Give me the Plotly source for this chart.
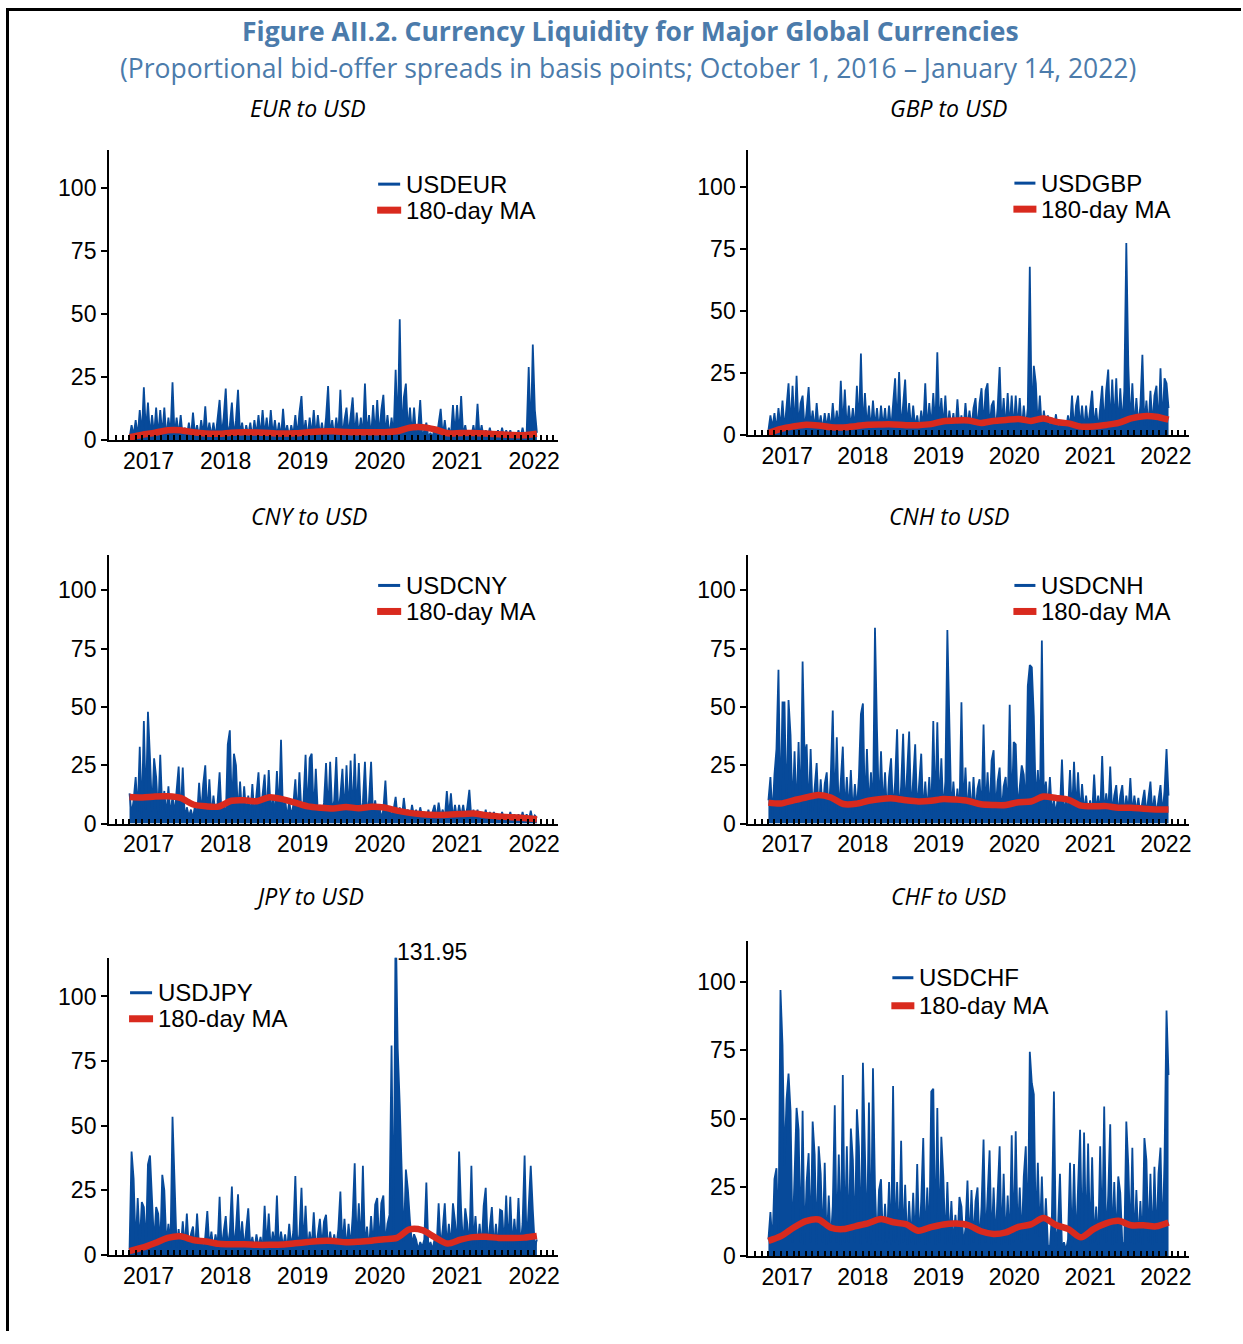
import pandas as pd
import plotly.graph_objects as go

# Proportional bid-offer spreads (basis points), sampled roughly every 10 days
START, END = "2016-10-03", "2022-01-14"

USDEUR = [
    1, 6, 2, 8, 1.5, 12, 2, 21, 3, 15, 1.5, 10, 2, 13, 1.5, 12, 2, 13, 1, 9,
    2, 23, 1.5, 9, 2, 10, 1, 5, 1.5, 7, 1, 11, 2, 6, 1, 8, 2, 13.5, 1.5, 7,
    1.5, 7, 1, 8, 16, 2, 9, 20.5, 2, 6, 15, 1.5, 8, 20, 2, 7, 1, 6, 2, 7,
    1, 8, 2, 10, 1.5, 12, 2, 9, 1, 12, 2, 8, 1.5, 7, 1, 12.5, 2, 6, 1, 6,
    2, 10, 1.5, 11, 17.5, 2, 8, 1, 9, 2, 12, 1.5, 10, 2, 7, 1, 9, 21.5, 2, 8,
    1.5, 9, 2, 20, 1, 8, 13, 2, 10, 17, 1.5, 11, 2, 9, 1.5, 22.5, 2, 10, 1, 14,
    2, 16, 1.5, 12, 18, 2, 10, 1.5, 9, 2, 28, 3, 48, 2, 17, 22.5, 3, 13, 2, 13,
    1.5, 5, 16, 1, 4, 7, 1, 3, 1, 5, 1, 6, 12.5, 1.5, 8, 1, 5, 1.5, 14, 2,
    14, 2, 17.5, 1.5, 6, 1, 4, 1.5, 6, 1, 14.5, 1.5, 6, 1, 4, 1, 5, 1, 3, 1,
    4, 1, 5, 1, 4, 1.5, 4, 1, 3, 1, 4, 1, 5, 1, 3, 29, 1, 38, 12, 3,
]
USDGBP = [
    2, 8, 3, 9, 2, 11, 3, 14, 2, 13, 21, 3, 20, 2, 24, 3, 13, 16, 2, 10,
    19.5, 3, 10, 2, 13, 3, 8, 2, 9, 3, 9, 2, 13, 3, 10, 2, 22, 3, 18.5, 2,
    12, 3, 11, 2, 20, 3, 33, 2, 17, 3, 12, 2, 14, 3, 11, 2, 12, 3, 11, 2,
    12, 2, 11, 23, 3, 25.5, 2, 13, 22.5, 3, 13, 2, 12, 3, 8, 2, 10, 3, 21, 2,
    13, 3, 17, 2, 33.5, 4, 15, 3, 16, 2, 10, 3, 9, 2, 14.5, 3, 8, 2, 13, 3,
    10, 3, 11, 15, 2, 13, 19, 3, 18, 21, 3, 12, 14, 2, 11, 27.5, 3, 15, 2, 17,
    3, 16, 2, 16, 3, 15, 2, 12, 3, 11, 68, 4, 28, 21, 3, 16, 2, 10, 3, 8,
    2, 7, 3, 8.5, 2, 5, 3, 6, 2, 8, 3, 16, 2, 12, 16, 3, 12, 2, 12, 3,
    12, 18, 3, 11, 2, 12, 20, 3, 18, 26.5, 3, 22.5, 4, 23, 3, 19, 4, 18, 77.5, 28,
    4, 21, 3, 15, 4, 12, 32.5, 4, 14, 3, 18, 4, 16, 20, 3, 27, 4, 23, 21, 11,
]
USDCNY = [
    13, 4, 10, 20, 5, 33, 3, 44, 6, 48, 28, 5, 28, 20, 4, 29.5, 6, 14, 3, 16,
    3, 12, 4, 13, 24.5, 3, 24, 2, 7, 3, 6, 2, 8, 3, 17.5, 4, 17, 25, 3, 19,
    3, 12, 4, 9, 22, 3, 8, 2, 34, 40, 5, 30, 25, 4, 18, 3, 16, 4, 12, 3,
    17, 3, 12, 22, 4, 14, 21, 3, 23, 4, 12, 3, 22.5, 4, 36, 3, 11, 2, 10, 3,
    8, 19, 3, 22, 4, 10, 29.5, 4, 28, 30, 3, 23.5, 4, 8, 3, 9, 26, 4, 26.5, 5,
    10, 28.5, 4, 12, 23.5, 3, 25, 4, 27, 3, 30, 4, 26, 3, 9, 26.5, 4, 10, 26.5, 3,
    10, 3, 8, 2, 6, 18.5, 2, 7, 3, 6, 11.5, 2, 7, 2, 11, 3, 6, 2, 8, 3,
    6, 2, 7, 3, 5, 2, 6, 2, 5, 8, 2, 9, 3, 6, 2, 14, 3, 13, 2, 8,
    2, 8, 3, 8, 2, 7, 14.5, 2, 6, 2, 6, 1.5, 5, 2, 6, 1.5, 5, 2, 5, 1.5,
    4, 1.5, 5, 1.5, 4, 1, 5, 1.5, 4, 1, 4, 1, 5, 1, 4, 1, 5.5, 1, 3.5, 2.5,
]
USDCNH = [
    10, 20, 3, 21, 32, 66, 4, 52, 52, 3, 53, 38, 5, 31, 4, 35, 4, 69.5, 28, 34,
    4, 32, 5, 14, 26, 4, 19, 5, 17, 22, 4, 20, 48.5, 5, 37, 4, 17, 33, 4, 20,
    5, 23, 4, 17, 6, 20, 47, 51.5, 5, 32, 6, 22, 4, 84, 40, 5, 31, 6, 22, 4,
    20, 28, 5, 18, 40.5, 4, 16, 38.5, 5, 20, 39.5, 4, 22, 34, 5, 20, 30, 4, 18, 5,
    20, 4, 44, 5, 43.5, 6, 28, 5, 18, 83, 35, 4, 18, 5, 15, 4, 52, 5, 24, 4,
    18, 4, 20, 5, 15, 19, 4, 42.5, 5, 22, 4, 27, 31.5, 5, 18, 24, 4, 16, 20, 5,
    51, 5, 35, 34, 6, 15, 25, 21, 6, 59, 68, 67, 46, 8, 23, 6, 78.5, 10, 18, 6,
    20, 5, 10, 4, 12, 6, 27.5, 4, 10, 5, 23, 4, 26.5, 5, 22, 4, 17, 5, 12, 4,
    10, 4, 21, 5, 12, 4, 29, 4, 13, 5, 24.5, 4, 12, 16.5, 4, 12, 16.5, 4, 12, 5,
    19.5, 4, 12, 5, 11, 4, 10, 14.5, 4, 10, 18, 4, 12, 4, 11, 16.5, 4, 14, 32, 12,
]
USDJPY = [
    2, 40, 29.5, 3, 22, 4, 20.5, 18.5, 3, 35, 38.5, 23, 4, 18.5, 16, 3, 31, 25, 4, 12,
    3, 53.5, 27, 3, 10, 2, 13, 3, 16, 2, 8, 11, 2, 16, 3, 6, 2, 7, 17, 3,
    9, 2, 8, 3, 22.5, 2, 9, 15, 3, 9, 26.5, 2, 10, 23.5, 3, 13, 2, 10, 18, 3,
    7, 2, 8, 3, 7, 2, 19, 3, 16, 2, 9, 3, 23, 2, 9, 3, 8, 2, 12, 3,
    9, 30.5, 3, 8, 26, 3, 19, 2, 9, 3, 16.5, 2, 9, 14, 3, 13, 15.5, 2, 9, 3,
    8, 3, 10, 24.5, 3, 14, 2, 12, 3, 15, 35.5, 3, 20, 3, 34.5, 3, 11, 2, 15, 3,
    19.5, 22, 3, 20, 23, 4, 12, 15.5, 81, 3, 131.95, 80, 58, 27, 5, 33, 25, 13, 4, 8,
    6, 2, 5, 3, 6, 28, 2, 5, 2, 6, 3, 20, 3, 10, 20, 3, 12, 3, 20, 13,
    3, 40, 17, 3, 18, 12, 3, 34.5, 4, 15, 3, 12, 3, 19, 26, 3, 12, 18.5, 3, 12,
    3, 17.5, 17, 3, 23, 3, 22.5, 3, 14, 4, 22, 3, 12, 38.5, 3, 19, 34.5, 17.5, 3, 6,
]
USDCHF = [
    6, 16, 4, 28, 32, 5, 97, 77, 33, 57, 66.5, 53, 5, 26, 54, 46, 5, 53, 4, 27,
    37.5, 5, 49, 37, 4, 40, 30, 5, 34, 4, 22, 5, 18, 55, 5, 37, 4, 66, 5, 40,
    5, 46.5, 35, 5, 53.5, 40, 4, 70.5, 36, 5, 56, 4, 68.5, 25, 4, 24, 28, 4, 19, 5,
    27, 4, 62, 5, 27, 4, 42, 5, 26, 4, 20, 5, 23, 4, 33.5, 5, 20, 43, 4, 25,
    5, 60, 61, 4, 54, 5, 43.5, 29, 4, 27, 5, 20, 4, 15, 5, 21.5, 18, 4, 10, 27.5,
    4, 24, 5, 20, 25, 4, 18, 42.5, 5, 22, 38.5, 4, 25, 5, 20, 40, 4, 30, 5, 22,
    4, 44, 5, 45.5, 6, 25, 5, 29, 40, 6, 74.5, 63, 59, 8, 34, 7, 29, 5, 21, 4,
    3, 15, 60, 3, 10, 30, 3, 5, 2, 6, 34, 3, 33.5, 4, 25, 46, 4, 45, 5, 41,
    4, 36, 5, 18, 4, 40, 6, 54.5, 5, 22, 48, 4, 27, 5, 29, 23, 5, 4, 49, 33,
    5, 39.5, 4, 24, 5, 20, 4, 43, 35, 5, 30, 4, 32.5, 5, 30, 39.5, 5, 35, 89.5, 66,
]

# 180-day moving averages, roughly every two months
MA_EUR = [1.2, 2.2, 3.0, 4.0, 4.0, 3.2, 2.7, 2.6, 3.0, 3.2, 3.1, 2.9, 2.7, 2.8, 3.2, 3.5, 3.6,
          3.3, 3.2, 3.2, 3.2, 3.6, 5.0, 5.2, 4.3, 2.8, 2.9, 2.9, 2.7, 2.4, 2.1, 2.0, 2.6]
MA_GBP = [0.9, 2.6, 3.6, 4.3, 4.0, 3.3, 3.2, 3.7, 4.3, 4.4, 4.4, 4.1, 4.1, 4.5, 5.7, 6.0, 6.0,
          5.0, 5.8, 6.2, 6.6, 5.8, 6.8, 5.4, 4.8, 3.5, 3.6, 4.2, 5.0, 6.8, 7.7, 7.5, 6.3]
MA_CNY = [11.4, 11.2, 11.6, 11.7, 11.0, 8.2, 7.4, 7.3, 9.8, 10.0, 9.6, 11.3, 10.5, 9.0, 7.4, 6.8, 6.5,
          7.1, 6.6, 7.2, 6.9, 5.6, 4.6, 4.0, 3.7, 3.8, 4.1, 4.3, 3.6, 3.1, 2.7, 2.4, 1.9]
MA_CNH = [9.0, 8.6, 10.0, 11.2, 12.3, 11.2, 8.4, 8.5, 9.8, 10.6, 10.8, 10.0, 9.5, 9.8, 10.6, 10.3, 9.7,
          8.3, 8.0, 8.0, 9.2, 9.5, 11.6, 11.0, 10.2, 7.7, 7.4, 7.5, 6.8, 6.8, 6.4, 6.1, 6.1]
MA_JPY = [1.5, 2.8, 4.6, 6.6, 7.2, 5.8, 5.2, 4.3, 4.1, 4.1, 3.9, 3.9, 4.0, 4.5, 5.0, 5.4, 5.4,
          4.9, 5.1, 5.5, 6.1, 6.6, 9.9, 9.6, 6.8, 4.4, 5.9, 6.9, 7.0, 6.6, 6.6, 6.7, 7.3]
MA_CHF = [5.5, 7.2, 10.3, 12.7, 13.3, 10.3, 9.8, 10.9, 12.0, 13.5, 12.3, 11.6, 9.2, 10.5, 11.5, 11.8, 11.2,
          9.0, 8.0, 8.6, 10.6, 11.5, 13.8, 11.3, 9.8, 6.8, 9.8, 11.9, 12.8, 11.2, 11.2, 10.8, 12.2]

PANEL_TITLES = ["EUR to USD", "GBP to USD", "CNY to USD", "CNH to USD", "JPY to USD", "CHF to USD"]
SERIES_NAMES = ["USDEUR", "USDGBP", "USDCNY", "USDCNH", "USDJPY", "USDCHF"]
SERIES = [USDEUR, USDGBP, USDCNY, USDCNH, USDJPY, USDCHF]
MAS = [MA_EUR, MA_GBP, MA_CNY, MA_CNH, MA_JPY, MA_CHF]
MA_NAME = "180-day MA"
YEARS = [2017, 2018, 2019, 2020, 2021, 2022]
Y_TICKS = [0, 25, 50, 75, 100]

W, H = 1243, 1344
# drawing area actually used by the page (positions below are laid out against it)
W_EFF, H_EFF = 1240.5, 1330.0
BLUE = "#074a9a"
RED = "#d92a1e"
TITLE_BLUE = "#4b7bab"
NUM_FONT = "Liberation Sans, Arial, sans-serif"
TXT_FONT = "Open Sans, sans-serif"


def px(x):
    return x / W_EFF


def py(y):
    return 1 - y / H_EFF


# panel frames in pixels: (left, right, top, bottom)
FRAMES = [
    (109, 558, 150, 440), (748, 1189, 150, 435),
    (109, 558, 555, 823), (748, 1189, 555, 823),
    (109, 558, 957, 1254), (748, 1189, 940, 1255),
]
# legend anchors: (line x0, line x1, text x, blue y, red y)
LEGENDS = [
    (377, 400, 404, 184, 210), (1013, 1035, 1039, 183, 209),
    (377, 400, 404, 585, 611), (1013, 1035, 1039, 585, 611),
    (129, 152, 156, 992, 1018), (891, 913, 917, 977, 1005),
]
TITLE_POS = [(308, 108), (948, 108), (309, 516), (949, 516), (309, 895), (948, 895)]

months = pd.date_range("2016-07-01", "2022-04-01", freq="MS")
tick_text = [str(d.year) if (d.month == 1 and d.year in YEARS) else "" for d in months]

fig = go.Figure()
shapes, annotations = [], []

for i in range(6):
    n = "" if i == 0 else str(i + 1)
    vals = SERIES[i]
    dates = pd.date_range(START, END, periods=len(vals))
    ma = MAS[i]
    ma_dates = pd.date_range(START, END, periods=len(ma))
    # dense daily quotes read as a solid band, so shade beneath the trace
    fig.add_trace(go.Scatter(x=dates, y=vals, mode="lines", name=SERIES_NAMES[i],
                             line=dict(color=BLUE, width=1.8), fill="tozeroy", fillcolor=BLUE,
                             xaxis="x" + n, yaxis="y" + n, hoverinfo="skip"))
    fig.add_trace(go.Scatter(x=ma_dates, y=ma, mode="lines", name=MA_NAME,
                             line=dict(color=RED, width=6.5, shape="spline", smoothing=0.8),
                             xaxis="x" + n, yaxis="y" + n, hoverinfo="skip"))

    l, r, t, b = FRAMES[i]
    fig.update_layout(**{
        "xaxis" + n: dict(
            domain=[px(l), px(r)], anchor="y" + n, type="date",
            range=["2016-06-28", "2022-04-25"],
            tickmode="array", tickvals=months, ticktext=tick_text,
            ticks="inside", ticklen=5, tickwidth=1.5, tickcolor="black",
            showline=True, linecolor="black", linewidth=2, showgrid=False, zeroline=False,
            tickfont=dict(family=NUM_FONT, size=23, color="black"), ticklabelstandoff=-1,
        ),
        "yaxis" + n: dict(
            domain=[py(b), py(t)], anchor="x" + n, range=[0, 115],
            tickmode="array", tickvals=Y_TICKS,
            ticks="outside", ticklen=6, tickwidth=1.5, tickcolor="black",
            showline=True, linecolor="black", linewidth=2, showgrid=False, zeroline=False,
            tickfont=dict(family=NUM_FONT, size=23, color="black"),
        ),
    })

    # panel title
    tx, ty = TITLE_POS[i]
    annotations.append(dict(x=px(tx), y=py(ty), xref="paper", yref="paper", showarrow=False,
                            text="<i>" + PANEL_TITLES[i] + "</i>", xanchor="center", yanchor="middle",
                            font=dict(family=TXT_FONT, size=23, color="black")))
    # legend
    x0, x1, xt, yb, yr = LEGENDS[i]
    shapes.append(dict(type="line", xref="paper", yref="paper", x0=px(x0 + 1), x1=px(x1),
                       y0=py(yb), y1=py(yb), line=dict(color=BLUE, width=3)))
    shapes.append(dict(type="line", xref="paper", yref="paper", x0=px(x0), x1=px(x1 + 1),
                       y0=py(yr), y1=py(yr), line=dict(color=RED, width=7)))
    annotations.append(dict(x=px(xt), y=py(yb), xref="paper", yref="paper", showarrow=False,
                            text=SERIES_NAMES[i], xanchor="left", yanchor="middle",
                            font=dict(family=NUM_FONT, size=24, color="black")))
    annotations.append(dict(x=px(xt), y=py(yr), xref="paper", yref="paper", showarrow=False,
                            text=MA_NAME, xanchor="left", yanchor="middle",
                            font=dict(family=NUM_FONT, size=24, color="black")))

# label the off-scale JPY spike with its value
jpy_dates = pd.date_range(START, END, periods=len(USDJPY))
k = max(range(len(USDJPY)), key=lambda j: USDJPY[j])
annotations.append(dict(x=jpy_dates[k], y=py(951), xref="x5", yref="paper", showarrow=False,
                        text=f"{USDJPY[k]:.2f}", xanchor="left", yanchor="middle", xshift=-1,
                        font=dict(family=NUM_FONT, size=23, color="black")))

# figure heading
annotations.append(dict(x=px(630), y=py(31), xref="paper", yref="paper", showarrow=False,
                        text="<b>Figure AII.2. Currency Liquidity for Major Global Currencies</b>",
                        xanchor="center", yanchor="middle",
                        font=dict(family=TXT_FONT, size=26.5, color=TITLE_BLUE)))
annotations.append(dict(x=px(628), y=py(68), xref="paper", yref="paper", showarrow=False,
                        text="(Proportional bid-offer spreads in basis points; October 1, 2016 \u2013 January 14, 2022)",
                        xanchor="center", yanchor="middle",
                        font=dict(family=TXT_FONT, size=26.5, color=TITLE_BLUE)))

# outer frame (left and top edges)
shapes.append(dict(type="line", xref="paper", yref="paper", x0=px(7.5), x1=px(7.5), y0=py(9.5), y1=0,
                   line=dict(color="black", width=3)))
shapes.append(dict(type="line", xref="paper", yref="paper", x0=px(6), x1=1, y0=py(9.5), y1=py(9.5),
                   line=dict(color="black", width=3)))

fig.update_layout(width=W, height=H, autosize=False, margin=dict(l=0, r=0, t=0, b=0, pad=0),
                  paper_bgcolor="white", plot_bgcolor="white", showlegend=False,
                  shapes=shapes, annotations=annotations)

fig.write_html("out.html", config={"responsive": False})
